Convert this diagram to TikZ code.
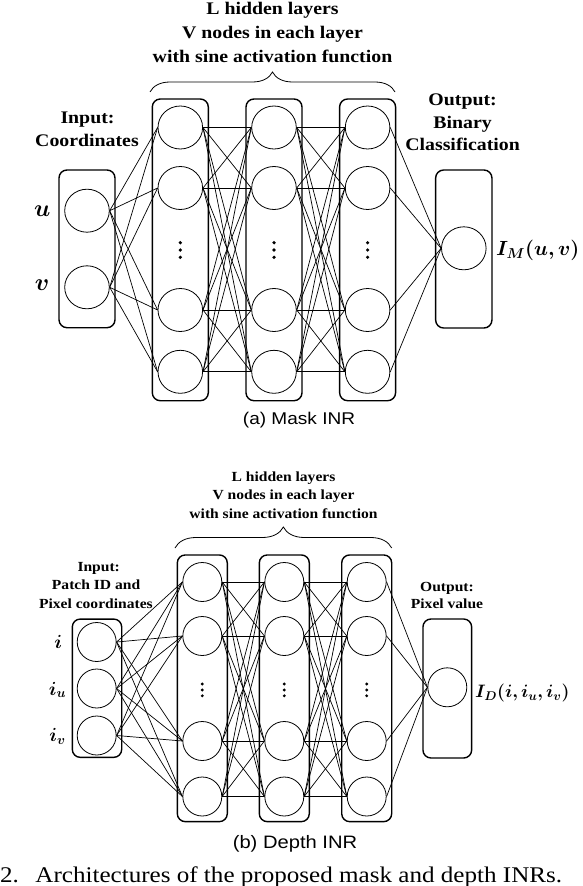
\RequirePackage{fix-cm}
\documentclass[tikz,border=0pt]{standalone}
\usepackage{fontspec}
\setmainfont{Liberation Serif}[FakeStretch=1.12]
\setsansfont{Liberation Sans}[FakeStretch=1.12]
\usepackage{bm}
\usetikzlibrary{decorations.pathreplacing,shapes.geometric}
\begin{document}
\begin{tikzpicture}[x=1pt,y=-1pt,
  layerbox/.style={draw, line width=1.4pt, rounded corners=8pt, inner sep=0pt},
  tneu/.style={draw, ellipse, line width=0.8pt, minimum width=44.6pt, minimum height=43pt, inner sep=0pt},
  bneu/.style={draw, ellipse, line width=0.8pt, minimum width=39pt, minimum height=39pt, inner sep=0pt},
  conn/.style={line width=0.7pt},
  dotm/.style={circle, fill, inner sep=0pt, minimum size=#1},
  ttitle/.style={font=\bfseries\fontsize{17.7}{21}\selectfont, anchor=base, inner sep=0pt},
  btitle/.style={font=\bfseries\fontsize{13.9}{17}\selectfont, anchor=base, inner sep=0pt},
  tmath/.style={font=\fontsize{24}{28}\selectfont, anchor=base, inner sep=0pt},
  bmath/.style={font=\fontsize{19}{23}\selectfont, anchor=base, inner sep=0pt},
  brc/.style={decorate, decoration={brace, amplitude=#1}, line width=0.8pt},
]
\useasboundingbox (0,0) rectangle (582,886);

% ================= TOP: Mask INR =================
\node[ttitle] (tt1) at (272.5,14.4) {L hidden layers};
\node[ttitle] (tt2) at (272.5,38.4) {V nodes in each layer};
\node[ttitle] (tt3) at (272.5,62) {with sine activation function};
\coordinate (tbl) at (150,92);
\coordinate (tbr) at (395,92);
\draw[brc=20] (tbl) -- (tbr);

\node[ttitle] (tin1) at (87.5,123.4) {Input:};
\node[ttitle] (tin2) at (87,146.7) {Coordinates};
\node[ttitle] (tou1) at (462.6,105) {Output:};
\node[ttitle] (tou2) at (462.6,128.4) {Binary};
\node[ttitle] (tou3) at (462.6,150) {Classification};

\node[layerbox, minimum width=56pt, minimum height=157.7pt] (tinbox) at (87,248.85) {};
\node[tneu] (ti1) at (87,210.7) {};
\node[tneu] (ti2) at (87,287.3) {};
\node[tmath] (ulab) at (42.2,216.7) {$\bm{u}$};
\node[tmath] (vlab) at (42,290) {$\bm{v}$};

\foreach \l/\x in {1/180.3,2/274,3/367.6} {
  \node[layerbox, minimum width=56pt, minimum height=301.7pt] (tbox\l) at (\x,249.85) {};
  \foreach \r/\y in {1/127.5,2/188,3/310,4/371.8}
    \node[tneu] (th\l\r) at (\x,\y) {};
  \node[dotm=3.6pt] (tda\l) at (\x,242.7) {};
  \node[dotm=3.6pt] (tdb\l) at (\x,250) {};
  \node[dotm=3.6pt] (tdc\l) at (\x,257.3) {};
}

\node[layerbox, minimum width=56.3pt, minimum height=158pt] (toutbox) at (463.8,249) {};
\node[tneu] (tout) at (463.8,248.3) {};
\node[tmath, font=\fontsize{20.5}{24}\selectfont, anchor=west] (imlab) at (496,250) {$\bm{I_M(u,v)}$};

\foreach \i in {1,2}
  \foreach \r in {1,...,4}
    \draw[conn] (ti\i.east) -- (th1\r.west);
\foreach \a/\b in {1/2,2/3}
  \foreach \r in {1,...,4}
    \foreach \s in {1,...,4}
      \draw[conn] (th\a\r.east) -- (th\b\s.west);
\foreach \r in {1,...,4}
  \draw[conn] (th3\r.east) -- (tout.west);

\node[font=\sffamily\fontsize{17}{20}\selectfont, inner sep=0pt] (capa) at (299,420) {(a) Mask INR};

% ================= BOTTOM: Depth INR =================
\node[btitle] (bt1) at (283.5,481) {L hidden layers};
\node[btitle] (bt2) at (283.5,499.5) {V nodes in each layer};
\node[btitle] (bt3) at (283.5,518) {with sine activation function};
\coordinate (bbl) at (175,548);
\coordinate (bbr) at (391.7,548);
\draw[brc=21] (bbl) -- (bbr);

\node[btitle] (bin1) at (98.7,571) {Input:};
\node[btitle] (bin2) at (96.1,589.2) {Patch ID and};
\node[btitle] (bin3) at (95.9,608.5) {Pixel coordinates};
\node[btitle] (bou1) at (447,591) {Output:};
\node[btitle] (bou2) at (447,608.5) {Pixel value};

\node[layerbox, minimum width=49.4pt, minimum height=138.3pt] (binbox) at (97,688.2) {};
\node[bneu] (bi1) at (96.7,642) {};
\node[bneu] (bi2) at (96.7,688.5) {};
\node[bneu] (bi3) at (96.7,735.5) {};
\node[bmath] (ilab) at (58.3,648.5) {$\bm{i}$};
\node[bmath] (iulab) at (57.5,695) {$\bm{i_u}$};
\node[bmath] (ivlab) at (57.5,741.7) {$\bm{i_v}$};

\foreach \l/\x in {1/202.3,2/284.3,3/366.7} {
  \node[layerbox, minimum width=50pt, minimum height=266.7pt] (bbox\l) at (\x,688.3) {};
  \foreach \r/\y in {1/582,2/636,3/741,4/796.5}
    \node[bneu] (bh\l\r) at (\x,\y) {};
  \node[dotm=3.2pt] (bda\l) at (\x,684) {};
  \node[dotm=3.2pt] (bdb\l) at (\x,690) {};
  \node[dotm=3.2pt] (bdc\l) at (\x,695.8) {};
}

\node[layerbox, minimum width=48.7pt, minimum height=139pt] (boutbox) at (447.3,688.5) {};
\node[bneu] (bout) at (447.3,687.3) {};
\node[bmath, font=\fontsize{18}{22}\selectfont, anchor=west] (idlab) at (475,693) {$\bm{I_D(i,i_u,i_v)}$};

\foreach \i in {1,2,3}
  \foreach \r in {1,...,4}
    \draw[conn] (bi\i.east) -- (bh1\r.west);
\foreach \a/\b in {1/2,2/3}
  \foreach \r in {1,...,4}
    \foreach \s in {1,...,4}
      \draw[conn] (bh\a\r.east) -- (bh\b\s.west);
\foreach \r in {1,...,4}
  \draw[conn] (bh3\r.east) -- (bout.west);

\node[font=\sffamily\fontsize{18}{21}\selectfont, inner sep=0pt] (capb) at (295,844.3) {(b) Depth INR};

% ================= figure caption (cut off at the bottom) =================
\node[font=\fontsize{22.4}{26}\selectfont, anchor=base west, inner sep=0pt] (capnum) at (0,882) {2.};
\node[font=\fontsize{22.4}{26}\selectfont, anchor=base west, inner sep=0pt] (captxt) at (35.2,882) {Architectures of the proposed mask and depth INRs.};
\end{tikzpicture}
\end{document}
